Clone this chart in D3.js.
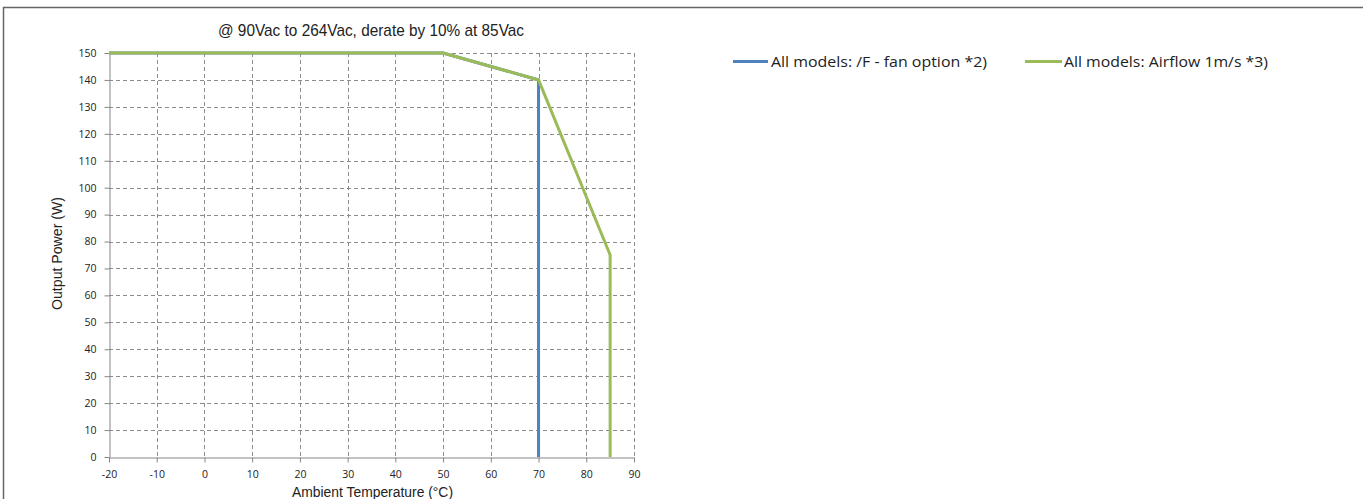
<!DOCTYPE html>
<html><head><meta charset="utf-8">
<script src="https://cdn.jsdelivr.net/npm/d3@7"></script>
<style>body{margin:0;background:#fff}svg{display:block}</style>
</head><body>
<svg id="c" width="1363" height="499"></svg>
<script>
const xTicks = [-20,-10,0,10,20,30,40,50,60,70,80,90];
const yTicks = [0,10,20,30,40,50,60,70,80,90,100,110,120,130,140,150];
const seriesNames = ["All models: /F - fan option *2)", "All models: Airflow 1m/s *3)"];
const fanTemp = [-20, 50, 70, 70];
const fanPower = [150, 150, 140, 0];
const airTemp = [-20, 50, 70, 85, 85];
const airPower = [150, 150, 140, 75, 0];
const colors = ["#4F81BD", "#9BBB59"];
const title = "@ 90Vac to 264Vac, derate by 10% at 85Vac";
const xTitle = "Ambient Temperature  (°C)";
const yTitle = "Output Power  (W)";

const svg = d3.select("#c");
const L = 109, R = 634, T = 53, B = 457;
const x = d3.scaleLinear().domain([-20, 90]).range([L, R]);
const y = d3.scaleLinear().domain([0, 150]).range([B, T]);

// border
svg.append("line").attr("x1",3).attr("x2",1363).attr("y1",7.5).attr("y2",7.5).attr("stroke","#666").attr("stroke-width",1.5);
svg.append("line").attr("x1",3.5).attr("x2",3.5).attr("y1",7).attr("y2",499).attr("stroke","#666").attr("stroke-width",1.5);

// grid
const g = svg.append("g");
g.selectAll(".gy").data(yTicks.filter(d=>d>0)).join("line")
  .attr("x1",L).attr("x2",R).attr("y1",d=>Math.round(y(d))+0.5).attr("y2",d=>Math.round(y(d))+0.5)
  .attr("stroke","#8c8c8c").attr("stroke-dasharray","4,3");
g.selectAll(".gx").data(xTicks.filter(d=>d>-20)).join("line")
  .attr("x1",d=>Math.round(x(d))+0.5).attr("x2",d=>Math.round(x(d))+0.5).attr("y1",T).attr("y2",B)
  .attr("stroke","#8c8c8c").attr("stroke-dasharray","4,3");

// axes
const fmt = d => String(d);
const xa = svg.append("g").attr("transform",`translate(0,${B+0.5})`)
  .call(d3.axisBottom(x).tickValues(xTicks).tickFormat(fmt).tickSize(5).tickSizeOuter(0).tickPadding(8));
const ya = svg.append("g").attr("transform",`translate(${L+0.5},0)`)
  .call(d3.axisLeft(y).tickValues(yTicks).tickFormat(fmt).tickSize(5).tickSizeOuter(0).tickPadding(8));
[xa, ya].forEach(a=>{
  a.select(".domain").attr("stroke","#868686");
  a.selectAll(".tick line").attr("stroke","#868686");
  a.selectAll("text").attr("fill","#222").style("font-family","'Open Sans', sans-serif").style("font-size","10.5px");
});

// lines
const line = d3.line().x(d=>x(d[0])).y(d=>y(d[1]));
const fan = fanTemp.map((t,i)=>[t, fanPower[i]]);
const air = airTemp.map((t,i)=>[t, airPower[i]]);
svg.append("path").attr("d", line(fan)).attr("fill","none").attr("stroke",colors[0]).attr("stroke-width",3);
svg.append("path").attr("d", line(air)).attr("fill","none").attr("stroke",colors[1]).attr("stroke-width",3).attr("stroke-linejoin","round");

// titles
const sans = "'Liberation Sans', Arial, sans-serif";
svg.append("text").attr("x",371).attr("y",36).attr("text-anchor","middle")
  .attr("textLength",306).attr("lengthAdjust","spacingAndGlyphs")
  .style("font-family",sans).style("font-size","17px").attr("fill","#222").text(title);
svg.append("text").attr("x",372.5).attr("y",497).attr("text-anchor","middle")
  .attr("textLength",161).attr("lengthAdjust","spacingAndGlyphs")
  .style("font-family",sans).style("font-size","14px").attr("fill","#222").text(xTitle);
svg.append("text").attr("transform","translate(62,253.5) rotate(-90)").attr("text-anchor","middle")
  .attr("textLength",113).attr("lengthAdjust","spacingAndGlyphs")
  .style("font-family",sans).style("font-size","14px").attr("fill","#222").text(yTitle);

// legend
const lg = [{x1:733,x2:768,tx:771,w:216},{x1:1025,x2:1062,tx:1064,w:204}];
lg.forEach((p,i)=>{
  svg.append("line").attr("x1",p.x1).attr("x2",p.x2).attr("y1",61.5).attr("y2",61.5).attr("stroke",colors[i]).attr("stroke-width",3);
  svg.append("text").attr("x",p.tx).attr("y",66.5).attr("textLength",p.w).attr("lengthAdjust","spacingAndGlyphs")
    .style("font-family","'Open Sans', sans-serif").style("font-size","14px")
    .attr("fill","#222").text(seriesNames[i]);
});
</script>
</body></html>
